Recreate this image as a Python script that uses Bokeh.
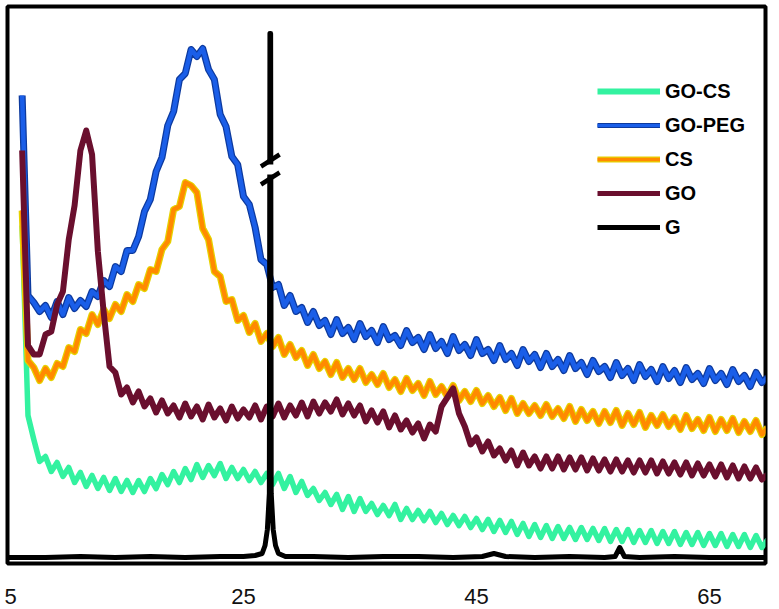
import numpy as np
from bokeh.plotting import figure
from bokeh.models import Range1d, FixedTicker, Legend, LegendItem
from bokeh.embed import file_html
from bokeh.resources import INLINE

# 2-theta sampling grid (degrees), 6.0 .. 70.0 every 0.5
two_theta = [round(6.0 + 0.5 * i, 1) for i in range(129)]

# intensities (a.u.)
go_cs = [338, 148, 124, 102, 107, 92, 101, 87, 96, 81,
         91, 77, 88, 75, 86, 73, 85, 72, 83, 71,
         83, 72, 85, 75, 89, 79, 92, 81, 95, 84,
         99, 86, 98, 88, 100, 85, 96, 85, 94, 83,
         92, 81, 90, 79, 90, 75, 87, 71, 82, 68,
         75, 63, 71, 59, 69, 54, 67, 52, 65, 52,
         60, 49, 58, 48, 59, 44, 55, 44, 53, 43,
         52, 41, 50, 39, 48, 38, 47, 36, 45, 34,
         44, 32, 43, 31, 42, 29, 40, 27, 39, 26,
         38, 25, 37, 25, 36, 24, 36, 24, 35, 23,
         35, 22, 34, 22, 34, 21, 33, 21, 33, 20,
         32, 20, 32, 19, 31, 19, 31, 18, 30, 18,
         30, 17, 29, 17, 29, 16, 28, 16, 24]

go_peg = [468, 268, 261, 252, 258, 246, 262, 249, 266, 255,
          263, 257, 272, 267, 283, 277, 297, 292, 313, 313,
          327, 352, 364, 392, 406, 438, 452, 484, 490, 514,
          507, 515, 494, 484, 449, 437, 407, 399, 367, 359,
          336, 304, 299, 276, 279, 258, 268, 252, 256, 241,
          252, 238, 243, 229, 244, 230, 236, 224, 240, 227,
          233, 221, 237, 224, 228, 218, 233, 221, 226, 214,
          229, 215, 222, 210, 227, 213, 219, 208, 224, 210,
          214, 203, 218, 204, 210, 198, 214, 202, 209, 196,
          210, 197, 204, 193, 208, 195, 201, 189, 203, 192,
          197, 186, 201, 188, 195, 183, 199, 187, 194, 182,
          197, 185, 193, 181, 196, 184, 190, 180, 195, 183,
          190, 179, 194, 182, 188, 177, 191, 181, 186]

cs = [353, 203, 196, 183, 195, 186, 200, 197, 216, 212,
      234, 230, 249, 239, 254, 245, 259, 252, 269, 262,
      279, 275, 294, 292, 314, 322, 354, 357, 381, 378,
      371, 335, 324, 292, 287, 262, 264, 243, 248, 231,
      240, 222, 230, 217, 226, 209, 219, 206, 213, 198,
      209, 195, 202, 189, 201, 186, 195, 184, 195, 181,
      189, 179, 190, 176, 184, 172, 185, 173, 180, 168,
      182, 169, 177, 167, 178, 163, 172, 162, 173, 160,
      168, 157, 166, 153, 165, 150, 160, 150, 158, 148,
      159, 147, 155, 145, 157, 142, 154, 143, 152, 140,
      152, 141, 153, 138, 150, 139, 151, 136, 148, 138,
      149, 137, 146, 134, 148, 135, 144, 133, 146, 132,
      144, 133, 145, 131, 142, 132, 143, 129, 136]

go = [413, 218, 209, 209, 229, 232, 259, 272, 324, 358,
      413, 433, 409, 312, 251, 197, 191, 169, 176, 161,
      172, 157, 165, 151, 163, 150, 158, 146, 160, 147,
      157, 144, 159, 146, 155, 143, 157, 145, 154, 146,
      158, 144, 157, 147, 160, 146, 158, 148, 161, 147,
      162, 150, 161, 152, 164, 149, 160, 148, 158, 142,
      153, 141, 152, 136, 148, 134, 143, 131, 140, 125,
      139, 132, 157, 166, 175, 150, 137, 119, 126, 112,
      122, 108, 115, 103, 113, 98, 111, 98, 107, 95,
      107, 95, 107, 94, 106, 94, 106, 93, 105, 93,
      104, 92, 104, 92, 103, 91, 103, 91, 103, 90,
      102, 90, 101, 89, 101, 88, 100, 88, 99, 87,
      99, 86, 98, 85, 97, 85, 96, 84, 89]

g_theta = [4.74, 8, 11, 14, 17, 20, 23, 25, 26.0, 26.6, 26.85, 27.05, 27.22, 27.27, 27.33,
           27.38, 27.55, 27.75, 28.0, 28.6, 31, 34, 37, 40, 43, 45.5, 46.5, 47.5, 50, 53,
           56, 56.9, 57.3, 57.7, 59, 62, 65, 68, 70]
g_int = [6, 6, 7, 6, 7, 6, 7, 7, 8, 10, 18, 34, 70, 530, 530,
         70, 34, 18, 10, 7, 7, 6, 7, 7, 6, 7, 10, 7, 6, 7,
         6, 7, 16, 7, 6, 7, 6, 6, 6]

# axis break drawn on the G peak (intensity levels of the two strokes)
break_upper = 403
break_lower = 385

x_ticks = [5, 25, 45, 65]
legend_labels = ["GO-CS", "GO-PEG", "CS", "GO", "G"]

MINT = "#33f2a0"
BLUE = "#1a5ee8"
BLUE_EDGE = "#0d3a9e"
ORANGE = "#ff8a00"
YELLOW = "#e6d200"
MAROON = "#6a0f2e"
BLACK = "#000000"

p = figure(width=769, height=609, x_range=Range1d(4.742, 69.81), y_range=Range1d(0, 557),
           output_backend="svg", toolbar_location=None,
           min_border_left=7, min_border_right=4, min_border_top=6, min_border_bottom=46)
p.background_fill_color = "white"
p.border_fill_color = "white"
p.outline_line_color = "black"
p.outline_line_width = 4
p.grid.visible = False
p.yaxis.visible = False

ax = p.xaxis[0]
ax.ticker = FixedTicker(ticks=x_ticks)
ax.axis_line_color = None
ax.major_tick_line_color = None
ax.minor_tick_line_color = None
ax.major_label_text_font = "Liberation Sans"
ax.major_label_text_font_size = "22px"
ax.major_label_text_color = "#111111"
ax.major_label_standoff = 19

p.line(two_theta, go_cs, line_color=MINT, line_width=5.5, line_join="round")
p.line(two_theta, go_peg, line_color=BLUE_EDGE, line_width=7, line_join="round")
p.line(two_theta, go_peg, line_color=BLUE, line_width=4.5, line_join="round")
p.line(two_theta, cs, line_color=YELLOW, line_width=7, line_join="round")
p.line(two_theta, cs, line_color=ORANGE, line_width=4.5, line_join="round")
p.line(two_theta, go, line_color=MAROON, line_width=6, line_join="round")
p.line(g_theta, g_int, line_color=BLACK, line_width=5, line_join="round")

# axis-break mark on the G peak
g_peak = g_theta[int(np.argmax(g_int))] + 0.03
p.quad(left=[g_peak - 0.4], right=[g_peak + 0.4], bottom=[break_lower + 4], top=[break_upper - 4],
       fill_color="white", line_color=None)
p.segment(x0=[g_peak - 0.8, g_peak - 0.8], y0=[break_upper - 6, break_lower - 6],
          x1=[g_peak + 0.8, g_peak + 0.8], y1=[break_upper + 6, break_lower + 6],
          line_color=BLACK, line_width=4.5)

# legend proxies
nan = [np.nan]
r_mint = p.line(nan, nan, line_color=MINT, line_width=6)
r_peg_e = p.line(nan, nan, line_color=BLUE_EDGE, line_width=5)
r_peg = p.line(nan, nan, line_color=BLUE, line_width=3)
r_cs_e = p.line(nan, nan, line_color=YELLOW, line_width=6)
r_cs = p.line(nan, nan, line_color=ORANGE, line_width=3.5)
r_go = p.line(nan, nan, line_color=MAROON, line_width=5)
r_g = p.line(nan, nan, line_color=BLACK, line_width=5)

items = [
    LegendItem(label=legend_labels[0], renderers=[r_mint]),
    LegendItem(label=legend_labels[1], renderers=[r_peg_e, r_peg]),
    LegendItem(label=legend_labels[2], renderers=[r_cs_e, r_cs]),
    LegendItem(label=legend_labels[3], renderers=[r_go]),
    LegendItem(label=legend_labels[4], renderers=[r_g]),
]
legend = Legend(items=items, location=(590, 324))
legend.border_line_color = None
legend.background_fill_alpha = 0
legend.padding = 0
legend.margin = 0
legend.spacing = 10
legend.glyph_width = 63
legend.glyph_height = 24
legend.label_height = 24
legend.label_standoff = 5
legend.label_text_font = "Liberation Sans"
legend.label_text_font_style = "bold"
legend.label_text_font_size = "20px"
legend.label_text_color = "black"
p.add_layout(legend)

open("out.html", "w").write(file_html(p, INLINE))
